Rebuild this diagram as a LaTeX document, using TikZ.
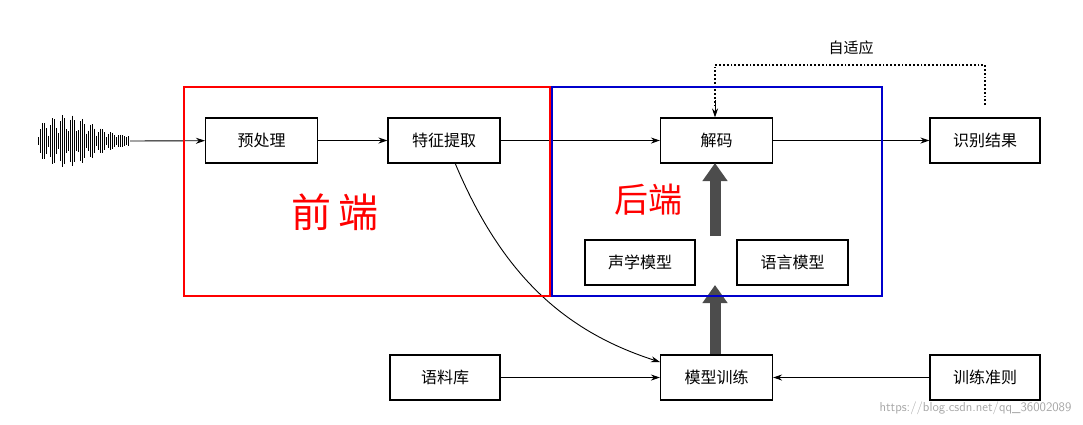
\documentclass[tikz,border=0pt]{standalone}
\usepackage{fontspec}
\newfontfamily\cjk{Noto Sans CJK SC}
\usetikzlibrary{arrows.meta}
\begin{document}
\begin{tikzpicture}[x=1pt,y=-1pt,
  box/.style={draw,line width=1.1pt,minimum width=112pt,minimum height=45pt,font=\cjk\fontsize{16}{16}\selectfont},
  arr/.style={-{Stealth[length=9pt,width=6pt]},line width=0.9pt},
  big/.style={-{Triangle[length=18pt,width=24pt]},line width=11pt,draw=black!70}]
\useasboundingbox (0,0) rectangle (1083,424);
% waveform
\foreach \i in {0,...,45}{
  \pgfmathsetmacro\xx{38+2*\i}
  \pgfmathsetmacro\hh{(4+22*abs(sin(\i*37))*exp(-((\i-14)/18)^2))}
  \draw[line width=1pt] (\xx,141-\hh) -- (\xx,141+\hh);
}
\coordinate (w) at (130,141);
\node[box] (pre) at (261.5,140.5) {预处理};
\node[box] (fe) at (444,140.5) {特征提取};
\node[box] (dec) at (716.5,140.5) {解码};
\node[box,minimum width=110pt] (res) at (985,140.5) {识别结果};
\node[box,minimum width=110pt] (am) at (640,262.5) {声学模型};
\node[box,minimum width=111pt] (lm) at (792.5,262.5) {语言模型};
\node[box] (tr) at (716.5,377.5) {模型训练};
\node[box,minimum width=110pt] (cor) at (445,377.5) {语料库};
\node[box,minimum width=110pt] (cr) at (985,377.5) {训练准则};
\draw[arr] (w) -- (pre);
\draw[arr] (pre) -- (fe);
\draw[arr] (fe) -- (dec);
\draw[arr] (dec) -- (res);
\draw[arr] (cor) -- (tr);
\draw[arr] (cr) -- (tr);
\draw[arr] (455,163) .. controls (500,270) and (560,330) .. (tr.west|-0,362);
\draw[line width=1.8pt,dotted] (985,105) -- (985,65) -- (715,65) -- (715,105);
\draw[arr] (715,100) -- (dec.north-|715,0);
\node[font=\cjk\fontsize{15}{15}\selectfont] (ad) at (851,48) {自适应};
\draw[big] (715,236) -- (715,163);
\draw[big] (715,354) -- (715,285);
\draw[red,line width=1.8pt] (184,87) rectangle (550,296);
\draw[blue!80!black,line width=1.8pt] (552,87) rectangle (882,296);
\node[red,font=\cjk\fontsize{40}{40}\selectfont\addfontfeature{}] (qd) at (335,212) {前\,端};
\node[red,font=\cjk\fontsize{34}{34}\selectfont] (hd) at (648,200) {后端};
\node[gray!70,font=\sffamily\fontsize{13}{13}\selectfont,anchor=east] (wm) at (1075,408) {https://blog.csdn.net/qq\_36002089};
\end{tikzpicture}
\end{document}
